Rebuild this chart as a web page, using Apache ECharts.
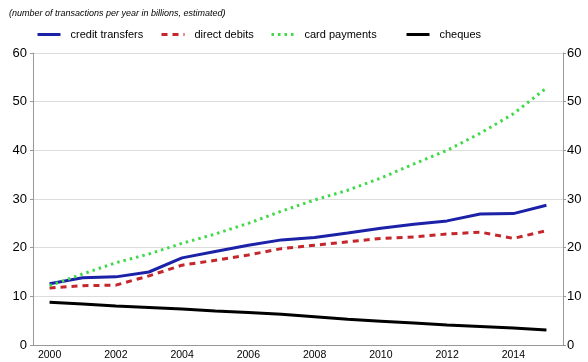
<!DOCTYPE html>
<html><head><meta charset="utf-8">
<script src="https://cdn.jsdelivr.net/npm/echarts@6/dist/echarts.min.js"></script>
<style>html,body{margin:0;padding:0;background:#fff}#c{width:588px;height:362px}</style>
</head><body><div id="c"></div>
<script>
const years = ['2000','2001','2002','2003','2004','2005','2006','2007','2008','2009','2010','2011','2012','2013','2014','2015'];
const creditTransfers = [12.6,13.8,14.0,15.0,17.9,19.2,20.5,21.6,22.1,23.0,24.0,24.8,25.5,26.9,27.0,28.7];
const directDebits = [11.7,12.2,12.3,14.2,16.4,17.4,18.5,19.8,20.5,21.2,21.9,22.2,22.8,23.2,21.9,23.5];
const cardPayments = [12.2,14.6,16.9,18.7,20.9,22.8,25.0,27.5,29.8,31.8,34.3,37.2,40.0,43.5,47.5,52.8];
const cheques = [8.8,8.4,8.0,7.7,7.4,7.0,6.7,6.3,5.8,5.3,4.9,4.5,4.1,3.8,3.5,3.1];

const FONT = 'Liberation Sans, Arial, sans-serif';
function legend(name, left){
  return {data:[name], left:left, top:29, itemWidth:23, itemHeight:6, padding:0,
    itemStyle:{opacity:0}, lineStyle:{width:3},
    textStyle:{fontSize:11, color:'#000', fontFamily:FONT, padding:[0,0,0,5]}};
}
const chart = echarts.init(document.getElementById('c'));
chart.setOption({
  animation:false,
  title:{text:'(number of transactions per year in billions, estimated)', left:4, top:4,
    textStyle:{fontSize:9, fontStyle:'italic', fontWeight:'normal', color:'#000', fontFamily:FONT}},
  legend:[legend('credit transfers',36), legend('direct debits',160), legend('card payments',270), legend('cheques',405)],
  grid:{left:33, right:25, top:53, bottom:17},
  xAxis:{type:'category', data:years, boundaryGap:true,
    axisLine:{lineStyle:{color:'#999'}},
    axisTick:{alignWithLabel:true, inside:true, length:3, lineStyle:{color:'#999'}, interval:0},
    axisLabel:{interval:1, fontSize:10.5, color:'#000', fontFamily:FONT, margin:5}},
  yAxis:[
    {type:'value', min:0, max:60, interval:10, position:'left',
      axisLine:{show:true, lineStyle:{color:'#999'}},
      axisTick:{show:true, length:3, lineStyle:{color:'#999'}},
      splitLine:{lineStyle:{color:'#dcdcdc'}},
      axisLabel:{fontSize:13, color:'#000', fontFamily:FONT, margin:6}},
    {type:'value', min:0, max:60, interval:10, position:'right',
      axisLine:{show:true, lineStyle:{color:'#999'}},
      axisTick:{show:true, length:3, lineStyle:{color:'#999'}},
      splitLine:{show:false},
      axisLabel:{fontSize:13, color:'#000', fontFamily:FONT, margin:4}}
  ],
  series:[
    {name:'credit transfers', type:'line', data:creditTransfers, symbol:'none', color:'#1c22a8',
      lineStyle:{width:3, color:'#1c22a8'}},
    {name:'direct debits', type:'line', data:directDebits, symbol:'none', color:'#c4262b',
      lineStyle:{width:3, color:'#c4262b', type:[6,5]}},
    {name:'card payments', type:'line', data:cardPayments, symbol:'none', color:'#3fd94a',
      lineStyle:{width:3, color:'#3fd94a', type:[2.5,4]}},
    {name:'cheques', type:'line', data:cheques, symbol:'none', color:'#000',
      lineStyle:{width:3, color:'#000'}}
  ]
});
</script></body></html>
